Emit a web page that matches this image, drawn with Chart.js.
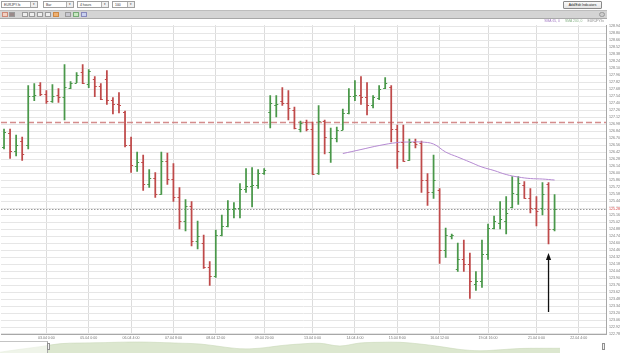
<!DOCTYPE html>
<html><head><meta charset="utf-8">
<script src="https://cdn.jsdelivr.net/npm/chart.js@4.4.0/dist/chart.umd.min.js"></script>
<style>
html,body{margin:0;padding:0;background:#fff;width:625px;height:353px;overflow:hidden;font-family:"Liberation Sans",Arial,sans-serif;}
#main{position:absolute;left:0;top:20px;}
#nav{position:absolute;left:0;top:340px;}
.sel{position:absolute;top:1px;height:7px;border:1px solid #a0a0a0;background:#fff;font-size:3.4px;line-height:7px;color:#333;padding-left:2px;box-sizing:border-box;}
.sel .ar{position:absolute;right:0;top:0;width:6px;height:5px;border-left:1px solid #b0b0b0;background:#f0f0f0;text-align:center;font-size:3px;line-height:5px;color:#333;}
#btn{position:absolute;left:563px;top:1px;width:39px;height:8px;border:1px solid #8a8a8a;border-radius:1px;background:linear-gradient(#fafafa,#e4e4e4);font-size:3.3px;line-height:6px;text-align:center;color:#222;box-sizing:border-box;}
#bar2{position:absolute;left:0;top:10px;width:607px;height:9px;background:#d4d4d4;border-top:1px solid #bdbdbd;border-bottom:1px solid #a8a8a8;box-sizing:border-box;}
.ic{position:absolute;top:1px;width:6px;height:5px;border:1px solid #999;box-sizing:border-box;background:#eee;}
#legend{position:absolute;right:21px;top:19px;font-size:3.4px;line-height:4px;white-space:nowrap;}
#legend span{margin-left:5px;}
#navmask{position:absolute;left:0;top:341px;width:48px;height:12px;background:rgba(255,255,255,0.55);border-top:1px solid #c4c4c4;border-right:1px solid #aaa;box-sizing:border-box;}
.hdl{position:absolute;top:343px;width:3px;height:7px;background:#f2f2f2;border:1px solid #909090;box-sizing:border-box;}
</style></head>
<body>
<canvas id="main" width="625" height="321"></canvas>
<canvas id="nav" width="607" height="13"></canvas>
<div id="navmask"></div>
<div class="hdl" style="left:47px"></div>
<div class="hdl" style="left:602px"></div>

<div class="sel" style="left:1px;width:37px">EURJPY.fx<div class="ar">▾</div></div>
<div class="sel" style="left:43px;width:31px">Bar<div class="ar">▾</div></div>
<div class="sel" style="left:77px;width:32px">4 hours<div class="ar">▾</div></div>
<div class="sel" style="left:112px;width:23px">100<div class="ar">▾</div></div>
<div id="btn">Add/Edit Indicators</div>
<div id="bar2">
  <div class="ic" style="left:2px;background:#f3d0c0;border-color:#c87"></div>
  <div class="ic" style="left:9px;background:#9a8a8a"></div>
  <div class="ic" style="left:22px"></div>
  <div class="ic" style="left:29px"></div>
  <div class="ic" style="left:37px"></div>
  <div class="ic" style="left:45px"></div>
  <div class="ic" style="left:53px;background:#f0b070;border-color:#c84"></div>
  <div class="ic" style="left:65px;background:#c8c8d0"></div>
  <div class="ic" style="left:73px;background:#c8e8c0;border-color:#7a7"></div>
  <div class="ic" style="left:81px;background:#c8d0f0;border-color:#88b"></div>
  <div class="ic" style="left:599px;border-radius:3px;background:#ccc"></div>
</div>
<div id="legend"><span style="color:#a47cc4">SMA 65, 0</span><span style="color:#8ab48a">SMA 200, 0</span><span style="color:#888">EURJPY.fx</span></div>

<script>
// ---- data (EUR/JPY 4-hour bars) ----
const opens  = [126.52,126.80,126.44,126.64,126.56,127.55,127.77,127.59,127.45,127.57,
                127.53,127.71,127.81,128.03,127.79,127.89,127.75,127.89,127.47,127.39,
                127.22,126.56,126.15,126.23,125.79,125.91,125.59,126.25,125.89,125.53,
                125.04,125.34,124.64,124.60,124.13,123.95,124.76,124.94,125.28,125.30,
                125.69,125.75,125.77,126.01,127.22,127.37,127.45,127.41,127.26,126.88,
                127.02,126.88,126.01,127.04,126.42,126.70,126.86,127.20,127.55,127.57,
                127.53,127.37,127.51,127.71,127.73,126.88,126.62,126.27,126.62,126.60,
                125.87,125.63,125.67,124.46,124.74,124.09,124.29,124.19,123.79,123.85,
                124.38,124.90,125.00,125.04,125.32,125.59,125.77,125.51,125.30,125.30,
                125.79,124.88];
const highs  = [126.88,126.88,126.76,126.72,127.75,127.79,127.81,127.65,127.77,127.69,
                128.17,127.83,128.01,128.17,128.07,127.93,127.79,128.05,127.51,127.61,
                127.24,126.72,126.42,126.36,126.07,126.01,126.42,126.40,126.19,125.71,
                125.47,125.43,125.04,124.76,124.23,124.86,125.16,125.45,125.41,125.79,
                126.09,126.11,126.07,126.09,127.55,127.55,127.71,127.65,127.32,127.04,
                127.06,127.02,127.35,127.06,126.90,126.92,127.28,127.69,127.85,127.93,
                127.81,127.55,127.75,127.91,127.75,126.96,126.96,126.68,126.68,126.64,
                125.99,126.36,125.69,124.90,124.78,124.60,124.66,124.40,124.03,124.66,
                124.98,125.14,125.43,125.53,125.93,125.93,125.83,125.69,125.53,125.81,
                125.81,125.57];
const lows   = [126.48,126.29,126.34,126.25,126.48,127.45,127.55,127.39,127.41,127.41,
                127.06,127.69,127.81,127.79,127.71,127.53,127.47,127.37,127.18,127.20,
                126.52,126.01,126.03,125.65,125.71,125.51,125.57,125.77,125.43,124.88,
                124.84,124.54,124.48,124.09,123.75,123.91,124.74,124.92,125.10,125.10,
                125.61,125.32,125.69,125.97,126.90,127.12,127.35,127.06,126.88,126.82,
                126.84,125.97,125.97,126.38,126.21,126.62,126.86,127.18,127.45,127.37,
                127.16,127.30,127.47,127.69,126.62,126.09,126.23,126.25,126.50,125.61,
                125.35,125.49,124.19,124.31,124.68,124.03,124.03,123.49,123.65,123.71,
                124.27,124.88,124.88,124.78,125.30,125.37,125.49,125.20,124.94,125.16,
                124.58,124.84];
const closes = [126.82,126.44,126.56,126.38,127.55,127.57,127.59,127.45,127.55,127.53,
                127.73,127.81,127.97,127.81,128.05,127.75,127.49,127.47,127.39,127.37,
                126.56,126.17,126.23,125.79,125.91,125.59,126.25,125.89,125.53,125.04,
                125.34,124.64,124.74,124.13,123.95,124.76,124.94,125.28,125.30,125.69,
                125.75,125.77,126.01,126.07,127.41,127.39,127.41,127.30,126.90,127.00,
                126.88,125.99,127.04,126.72,126.70,126.86,127.20,127.55,127.57,127.53,
                127.37,127.53,127.69,127.81,126.88,126.44,126.25,126.62,126.58,125.87,
                125.63,125.87,124.46,124.76,124.76,124.29,124.19,123.85,123.85,124.38,
                124.90,125.04,125.08,125.20,125.61,125.81,125.51,125.30,125.24,125.59,
                124.88,125.28];
// moving average (purple) sampled at bar indices
const smaIdx = [56,59,62,65,67,69,71,73,75,77,79,81,83,85,87,89,91];
const smaVal = [126.39,126.47,126.55,126.61,126.62,126.62,126.58,126.42,126.32,126.22,126.12,126.05,125.97,125.92,125.89,125.88,125.86];
// reference levels
const resistance = 127.02;
const arrowIdx = 90, arrowFrom = 123.22, arrowTo = 124.40;
// x-axis tick labels at bar indices
const tickIdx    = [7,14,21,28,35,43,51,58,65,72,80,88,95];
const tickLabels = ["03.04 0:00","05.04 0:00","06.04 4:00","07.04 8:00","08.04 12:00","09.04 20:00","13.04 0:00","14.04 4:00","15.04 8:00","16.04 12:00","19.04 16:00","21.04 0:00","22.04 4:00"];
const slotCount = 100;
// navigator history (relative heights)
const navHistory = [0.8,3.7,6.3,9.3,10.0,10.3,10.8,11.0,10.5,9.8,9.0,6.5,4.2,4.8,7.3,9.0,9.7,7.0,10.0,10.7,10.7,9.0,6.5,3.5,2.2,3.2,4.5,4.7,4.7];

const GREEN = '#4a984a', RED = '#bf4a4a';
const FONT = '"Liberation Sans", Arial, sans-serif';
const lastClose = closes[closes.length-1];
const tickMap = new Map(tickIdx.map((k,i)=>[k,tickLabels[i]]));
const slots = Array.from({length: slotCount}, (_, i) => String(i));
const smaData = opens.map(() => null);
smaIdx.forEach((k,i) => { smaData[k] = smaVal[i]; });
const barColors = opens.map((o,i) => closes[i] >= o ? GREEN : RED);

const ohlcPlugin = {
  id: 'ohlc',
  beforeDatasetsDraw(chart) {
    const {ctx, chartArea: a, scales: {y}} = chart;
    ctx.save();
    ctx.lineWidth = 1.6;
    ctx.strokeStyle = 'rgba(205,120,120,0.85)';
    ctx.setLineDash([6, 3]);
    let py = Math.round(y.getPixelForValue(resistance)) + 0.5;
    ctx.beginPath(); ctx.moveTo(a.left, py); ctx.lineTo(a.right, py); ctx.stroke();
    ctx.lineWidth = 1;
    ctx.strokeStyle = '#9a9a9a';
    ctx.setLineDash([1.5, 1.5]);
    py = Math.round(y.getPixelForValue(lastClose)) + 0.5;
    ctx.beginPath(); ctx.moveTo(a.left, py); ctx.lineTo(a.right, py); ctx.stroke();
    ctx.restore();
  },
  afterDatasetsDraw(chart) {
    const {ctx, chartArea: a, scales: {x, y}} = chart;
    ctx.save();
    ctx.lineWidth = 1;
    for (let i = 0; i < opens.length; i++) {
      const px = x.getPixelForValue(i);
      const yo = Math.round(y.getPixelForValue(opens[i])) + 0.5;
      const yc = Math.round(y.getPixelForValue(closes[i])) + 0.5;
      ctx.strokeStyle = barColors[i];
      ctx.beginPath();
      ctx.moveTo(px - 2, yo); ctx.lineTo(px, yo);
      ctx.moveTo(px, yc); ctx.lineTo(px + 2, yc);
      ctx.stroke();
    }
    // arrow annotation
    const ax = x.getPixelForValue(arrowIdx);
    const y0 = y.getPixelForValue(arrowFrom), y1 = y.getPixelForValue(arrowTo);
    ctx.strokeStyle = '#111'; ctx.fillStyle = '#111'; ctx.lineWidth = 1.3;
    ctx.beginPath(); ctx.moveTo(ax, y0); ctx.lineTo(ax, y1 + 5); ctx.stroke();
    ctx.beginPath(); ctx.moveTo(ax, y1); ctx.lineTo(ax - 2.6, y1 + 7); ctx.lineTo(ax + 2.6, y1 + 7); ctx.closePath(); ctx.fill();
    // current price label
    const ly = y.getPixelForValue(lastClose);
    ctx.fillStyle = '#fff';
    ctx.fillRect(a.right + 1, ly - 2.5, 17, 5);
    ctx.fillStyle = '#d03838';
    ctx.font = '3.6px ' + FONT;
    ctx.textBaseline = 'middle';
    ctx.fillText(lastClose.toFixed(2), a.right + 3, ly);
    ctx.restore();
  }
};

new Chart(document.getElementById('main'), {
  data: {
    labels: slots,
    datasets: [
      {type: 'line', data: smaData, borderColor: '#b58ad2', borderWidth: 1, pointRadius: 0, tension: 0.4, spanGaps: true, order: 1},
      {type: 'bar', data: lows.map((l,i) => [l, highs[i]]), backgroundColor: barColors, borderWidth: 0, barThickness: 1.1, order: 2}
    ]
  },
  options: {
    animation: false, responsive: false, maintainAspectRatio: false,
    layout: {padding: {left: 1, top: 2, right: 0, bottom: 0}},
    plugins: {legend: {display: false}, tooltip: {enabled: false}},
    scales: {
      x: {
        type: 'category', offset: true,
        grid: {color: '#dcdcdc', offset: false, drawTicks: false},
        border: {display: true, color: '#a8a8a8'},
        ticks: {autoSkip: false, maxRotation: 0, minRotation: 0, padding: 2, color: '#777', font: {size: 3.6, family: FONT},
                callback: (v, i) => tickMap.has(i) ? tickMap.get(i) : null},
        afterFit(s) { s.height = 7; }
      },
      y: {
        position: 'right', min: 122.78, max: 128.958,
        grid: {color: '#e6e6e6', drawTicks: false},
        border: {display: true, color: '#a8a8a8'},
        ticks: {stepSize: 0.14, includeBounds: false, autoSkip: false, padding: 3, color: '#777', font: {size: 3.6, family: FONT},
                callback: v => Number(v).toFixed(2)},
        afterFit(s) { s.width = 19; }
      }
    }
  },
  plugins: [ohlcPlugin]
});

new Chart(document.getElementById('nav'), {
  type: 'line',
  data: {datasets: [{data: navHistory.map((v,i) => ({x: i, y: v})), fill: 'origin', backgroundColor: '#dce7cf', borderColor: '#c9d9b9', borderWidth: 0.6, pointRadius: 0, tension: 0.35}]},
  options: {
    animation: false, responsive: false, layout: {padding: 0},
    plugins: {legend: {display: false}, tooltip: {enabled: false}},
    scales: {x: {type: 'linear', display: false, min: 0, max: 30.35}, y: {display: false, min: 0, max: 13}}
  }
});
</script>
</body></html>
